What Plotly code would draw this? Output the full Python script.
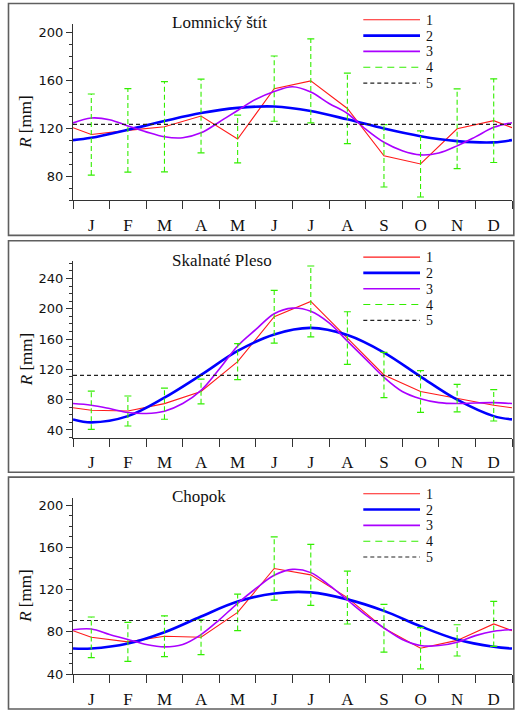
import plotly.graph_objects as go

# ---------------- data ----------------
months = ['J', 'F', 'M', 'A', 'M', 'J', 'J', 'A', 'S', 'O', 'N', 'D']
x_mid = [i + 0.5 for i in range(12)]
x_edge = [0] + x_mid + [12]
x_half = [i * 0.5 for i in range(25)]

stations = ['Lomnický štít', 'Skalnaté Pleso', 'Chopok']
legend_labels = ['1', '2', '3', '4', '5']

# Lomnický štít
lom_mean = [115.0, 118.5, 121.5, 130.5, 111.2, 153.4, 159.9, 136.8, 97.2, 90.4, 119.8, 126.6]
lom_edge = 120.7
lom_std = [33.9, 34.9, 37.7, 30.8, 20.0, 27.3, 35.2, 29.5, 26.1, 27.7, 33.4, 35.0]
lom_h1 = [110.3, 112.3, 119.0, 126.3, 133.0, 137.3, 138.4, 134.6, 127.7, 120.0, 113.6, 109.5, 108.4, 110.3]
lom_h2 = [124.7, 128.8, 127.4, 122.2, 117.2, 113.1, 112.3, 116.4, 125.5, 135.1, 144.5, 151.0, 155.0,
          150.5, 141.0, 132.6, 119.5, 108.5, 101.5, 98.0, 99.5, 105.5, 113.0, 121.0, 124.9]
lom_avg = 123.4

# Skalnaté Pleso
skp_mean = [66.1, 65.1, 74.8, 90.8, 130.2, 189.6, 209.7, 161.3, 112.6, 90.8, 82.1, 72.6]
skp_edge = 69.3
skp_std = [25.2, 19.8, 20.6, 16.3, 23.7, 34.8, 46.8, 34.8, 29.8, 27.6, 18.1, 20.7]
skp_h1 = [54.0, 50.1, 58.3, 82.7, 112.7, 144.4, 166.2, 174.8, 165.3, 142.2, 110.5, 80.0, 58.3, 54.0]
skp_h2 = [74.9, 72.7, 68.3, 63.1, 61.8, 64.8, 74.9, 92.2, 120.5, 150.9, 172.7, 193.5, 200.9,
          196.6, 181.3, 157.4, 133.5, 109.6, 90.9, 81.3, 76.1, 74.9, 75.7, 76.1, 74.9]
skp_avg = 112.2

# Chopok
cho_mean = [74.9, 70.6, 75.9, 75.0, 98.5, 140.0, 134.0, 112.5, 83.4, 64.6, 72.0, 87.6]
cho_edge = 81.2
cho_std = [19.2, 18.4, 19.3, 16.5, 17.2, 30.0, 28.9, 25.0, 22.6, 19.5, 14.8, 21.3]
cho_h1 = [64.3, 64.3, 69.0, 79.7, 94.6, 108.7, 116.4, 117.4, 110.8, 99.9, 85.3, 72.8, 65.9, 64.3]
cho_h2 = [82.1, 82.8, 77.5, 72.8, 68.1, 65.9, 68.1, 77.5, 91.5, 107.1, 121.1, 133.6, 139.2,
          136.1, 124.2, 110.2, 96.1, 83.7, 72.8, 67.1, 67.1, 70.3, 76.5, 80.6, 82.1]
cho_avg = 90.8

y_ranges = [[60, 207.7], [30, 263], [40, 207]]

# ---------------- style ----------------
W, H = 515, 718
SERIF = 'Liberation Serif'
SANS = 'DejaVu Sans'
C_RED = '#ff1a1a'
C_BLUE = '#0000ff'
C_PURPLE = '#aa00ff'
C_GREEN = '#33ee00'
C_BLACK = '#222222'
AX = '#333333'

series = [
    (lom_mean, lom_edge, lom_std, lom_h1, lom_h2, lom_avg),
    (skp_mean, skp_edge, skp_std, skp_h1, skp_h2, skp_avg),
    (cho_mean, cho_edge, cho_std, cho_h1, cho_h2, cho_avg),
]

# pixel layout of panels
plot_left, plot_right = 73, 512
plot_tops = [24, 264, 503.3]
plot_h = 178.5
frames = [(3.5, 238), (243.5, 477.5), (482.5, 717)]


def pxx(p):
    return p / W


def pxy(p):
    return 1 - p / H


fig = go.Figure()
shapes = []
annotations = []
layout_axes = {}

for k in range(3):
    mean, edge, std, h1, h2, avg = series[k]
    sfx = '' if k == 0 else str(k + 1)
    xa, ya = 'x' + sfx, 'y' + sfx

    # red: monthly means
    fig.add_trace(go.Scatter(x=x_edge, y=[edge] + mean + [edge], mode='lines',
                             line=dict(color=C_RED, width=1.1), xaxis=xa, yaxis=ya,
                             showlegend=False, hoverinfo='skip'))
    # blue: first harmonic
    fig.add_trace(go.Scatter(x=x_edge, y=h1, mode='lines', line_shape='spline',
                             line=dict(color=C_BLUE, width=2.6), xaxis=xa, yaxis=ya,
                             showlegend=False, hoverinfo='skip'))
    # purple: second harmonic
    fig.add_trace(go.Scatter(x=x_half, y=h2, mode='lines', line_shape='spline',
                             line=dict(color=C_PURPLE, width=1.6), xaxis=xa, yaxis=ya,
                             showlegend=False, hoverinfo='skip'))
    # green error bars (dashed)
    ex, ey, cx, cy = [], [], [], []
    for xm, m, s in zip(x_mid, mean, std):
        ex += [xm, xm, None]
        ey += [m - s, m + s, None]
        cx += [xm, xm]
        cy += [m - s, m + s]
    fig.add_trace(go.Scatter(x=ex, y=ey, mode='lines',
                             line=dict(color=C_GREEN, width=1.1, dash='5px,3px'),
                             xaxis=xa, yaxis=ya, showlegend=False, hoverinfo='skip'))
    fig.add_trace(go.Scatter(x=cx, y=cy, mode='markers',
                             marker=dict(symbol='line-ew', size=5,
                                         line=dict(color=C_GREEN, width=1.2)),
                             xaxis=xa, yaxis=ya, showlegend=False, hoverinfo='skip'))
    # black dashed: annual mean
    fig.add_trace(go.Scatter(x=[0, 12], y=[avg, avg], mode='lines',
                             line=dict(color=C_BLACK, width=1.2, dash='4px,3px'),
                             xaxis=xa, yaxis=ya, showlegend=False, hoverinfo='skip'))

    top = plot_tops[k]
    bot = top + plot_h
    layout_axes['xaxis' + sfx] = dict(
        domain=[pxx(plot_left), pxx(plot_right)], anchor=ya, range=[0, 12],
        tickmode='array', tickvals=x_mid, ticktext=months,
        ticks='outside', ticklen=9, tickcolor='rgba(0,0,0,0)',
        tickfont=dict(family=SERIF, size=17, color='#111'),
        showline=True, linecolor=AX, linewidth=1.3, showgrid=False, zeroline=False,
        minor=dict(tickmode='array', tickvals=list(range(13)), ticks='outside',
                   ticklen=8, tickcolor=AX, tickwidth=1.2, showgrid=False),
        fixedrange=True)
    layout_axes['yaxis' + sfx] = dict(
        domain=[pxy(bot), pxy(top)], anchor=xa, range=y_ranges[k],
        tickmode='linear', tick0=0, dtick=40,
        ticks='outside', ticklen=6, tickcolor=AX, tickwidth=1.2,
        tickfont=dict(family=SANS, size=13, color='#111'),
        showline=True, linecolor=AX, linewidth=1.3, showgrid=False, zeroline=False,
        minor=dict(dtick=10, ticks='outside', ticklen=3, tickcolor=AX, tickwidth=1,
                   showgrid=False),
        fixedrange=True)

    # frame
    f0, f1 = frames[k]
    shapes.append(dict(type='rect', xref='paper', yref='paper',
                       x0=pxx(8.5), x1=pxx(513.8), y0=pxy(f1), y1=pxy(f0),
                       line=dict(color='#5f5f5f', width=1.6), fillcolor='rgba(0,0,0,0)',
                       layer='above'))
    # station title
    annotations.append(dict(text=stations[k], xref='paper', yref='paper',
                            x=pxx(170), y=pxy(top - 1), xanchor='left', yanchor='middle',
                            showarrow=False, font=dict(family=SERIF, size=17, color='#111')))
    # y axis title
    annotations.append(dict(text='<i>R</i> [mm]', xref='paper', yref='paper',
                            x=pxx(26), y=pxy(top + plot_h / 2 + 11), textangle=-90,
                            xanchor='center', yanchor='middle', showarrow=False,
                            font=dict(family=SERIF, size=17, color='#111')))
    # legend
    leg_styles = [
        dict(color=C_RED, width=1.1),
        dict(color=C_BLUE, width=2.6),
        dict(color=C_PURPLE, width=1.6),
        dict(color=C_GREEN, width=1.1, dash='7px,5px'),
        dict(color=C_BLACK, width=1.2, dash='4px,3px'),
    ]
    for j, (lab, st) in enumerate(zip(legend_labels, leg_styles)):
        yy = top - 4 + 16 * j
        shapes.append(dict(type='line', xref='paper', yref='paper',
                           x0=pxx(363.3), x1=pxx(420), y0=pxy(yy), y1=pxy(yy), line=st))
        annotations.append(dict(text=lab, xref='paper', yref='paper', borderpad=0,
                                x=pxx(424.5), y=pxy(yy + 0.5), xanchor='left', yanchor='middle',
                                showarrow=False, font=dict(family=SERIF, size=14, color='#111')))

fig.update_layout(
    width=W, height=H, margin=dict(l=0, r=0, t=0, b=0),
    paper_bgcolor='white', plot_bgcolor='white', showlegend=False,
    shapes=shapes, annotations=annotations, **layout_axes)

fig.write_html('out.html', config={'displayModeBar': False})
